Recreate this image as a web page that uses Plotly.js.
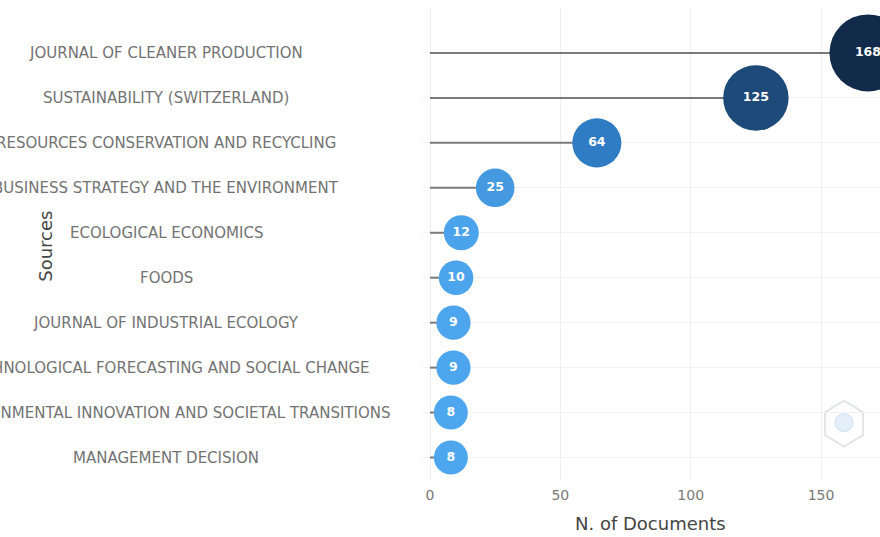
<!DOCTYPE html>
<html>
<head>
<meta charset="utf-8">
<script src="https://cdn.plot.ly/plotly-3.0.1.min.js"></script>
<style>html,body{margin:0;padding:0;background:#fff;overflow:hidden;width:880px;height:537px}#chart{width:900px;height:537px}</style>
</head>
<body>
<div id="chart"></div>
<script>
const sources = [
  "JOURNAL OF CLEANER PRODUCTION",
  "SUSTAINABILITY (SWITZERLAND)",
  "RESOURCES CONSERVATION AND RECYCLING",
  "BUSINESS STRATEGY AND THE ENVIRONMENT",
  "ECOLOGICAL ECONOMICS",
  "FOODS",
  "JOURNAL OF INDUSTRIAL ECOLOGY",
  "TECHNOLOGICAL FORECASTING AND SOCIAL CHANGE",
  "ENVIRONMENTAL INNOVATION AND SOCIETAL TRANSITIONS",
  "MANAGEMENT DECISION"
];
const documents = [168, 125, 64, 25, 12, 10, 9, 9, 8, 8];
const xTicks = [0, 50, 100, 150];

const vMin = Math.min(...documents), vMax = Math.max(...documents);

// stems
const segX = [], segY = [];
sources.forEach((s, i) => { segX.push(0, documents[i], null); segY.push(s, s, null); });

const stems = {
  type: 'scatter', mode: 'lines', x: segX, y: segY,
  line: {color: '#7a7a7a', width: 2}, hoverinfo: 'skip', showlegend: false, cliponaxis: false
};

const bubbles = {
  type: 'scatter', mode: 'markers+text', x: documents, y: sources,
  text: documents.map(String), textposition: 'middle center',
  textfont: {family: 'DejaVu Sans, sans-serif', size: 12.5, color: '#ffffff', weight: 'bold'},
  marker: {
    size: documents.map(v => 34 + (v - vMin) * 0.269),
    color: documents, cmin: vMin, cmax: vMax,
    colorscale: [[0, '#4da6ee'], [0.35, '#2f7bc4'], [0.73, '#1d4a78'], [1, '#132b4b']],
    line: {width: 0}, opacity: 1
  },
  showlegend: false, cliponaxis: false
};

// layout geometry helpers (pixel -> paper)
const W = 900, H = 537;
const L = 422, R = 884, T = 8, B = 480.5;
const X0 = 430, PXU = 2.607;
const px = p => (p - L) / (R - L);
const py = p => (B - p) / (B - T);

const annotations = sources.map(s => ({
  xref: 'paper', yref: 'y', x: px(166), y: s, text: s, showarrow: false,
  xanchor: 'center', yanchor: 'middle',
  font: {family: 'DejaVu Sans, sans-serif', size: 15, color: '#737373'}
}));
annotations.push({
  xref: 'paper', yref: 'paper', x: px(46), y: py(247), text: 'Sources', textangle: -90,
  showarrow: false, xanchor: 'center', yanchor: 'middle',
  font: {family: 'DejaVu Sans, sans-serif', size: 18, color: '#454545'}
});
annotations.push({
  xref: 'paper', yref: 'paper', x: px(650), y: py(524), text: 'N. of Documents',
  showarrow: false, xanchor: 'center', yanchor: 'middle',
  font: {family: 'DejaVu Sans, sans-serif', size: 18, color: '#454545'}
});

// faint hexagon watermark
const hcx = 844, hcy = 424, hr = 23;
let hex = '';
for (let k = 0; k < 6; k++) {
  const a = Math.PI / 2 + k * Math.PI / 3;
  hex += (k === 0 ? 'M' : 'L') + px(hcx + hr * Math.cos(a) * 0.95).toFixed(4) + ',' + py(hcy - hr * Math.sin(a)).toFixed(4);
}
hex += 'Z';

const layout = {
  width: W, height: H,
  margin: {l: L, r: W - R, t: T, b: H - B},
  paper_bgcolor: '#ffffff', plot_bgcolor: '#ffffff',
  font: {family: 'DejaVu Sans, sans-serif', color: '#666'},
  xaxis: {
    range: [(L - X0) / PXU, (R - X0) / PXU],
    tickvals: xTicks, ticktext: xTicks.map(String),
    showgrid: true, gridcolor: '#f0f0f0', gridwidth: 1, zeroline: false,
    showline: false, ticks: '', ticklabelstandoff: 5,
    tickfont: {size: 14, color: '#7a7a7a'}
  },
  yaxis: {
    type: 'category', categoryorder: 'array', categoryarray: sources,
    range: [sources.length - 0.5, -1],
    showticklabels: false, showgrid: true, gridcolor: '#f2f2f2', zeroline: false, ticks: ''
  },
  annotations: annotations,
  shapes: [
    {type: 'path', xref: 'paper', yref: 'paper', path: hex, line: {color: '#e2e5e8', width: 2}, layer: 'below'},
    {type: 'circle', xref: 'paper', yref: 'paper', x0: px(835), x1: px(853), y0: py(432), y1: py(414),
     fillcolor: 'rgba(150,190,230,0.25)', line: {color: 'rgba(150,190,230,0.4)', width: 1}, layer: 'below'}
  ],
  showlegend: false
};

Plotly.newPlot('chart', [stems, bubbles], layout, {displayModeBar: false, responsive: false});
</script>
</body>
</html>
